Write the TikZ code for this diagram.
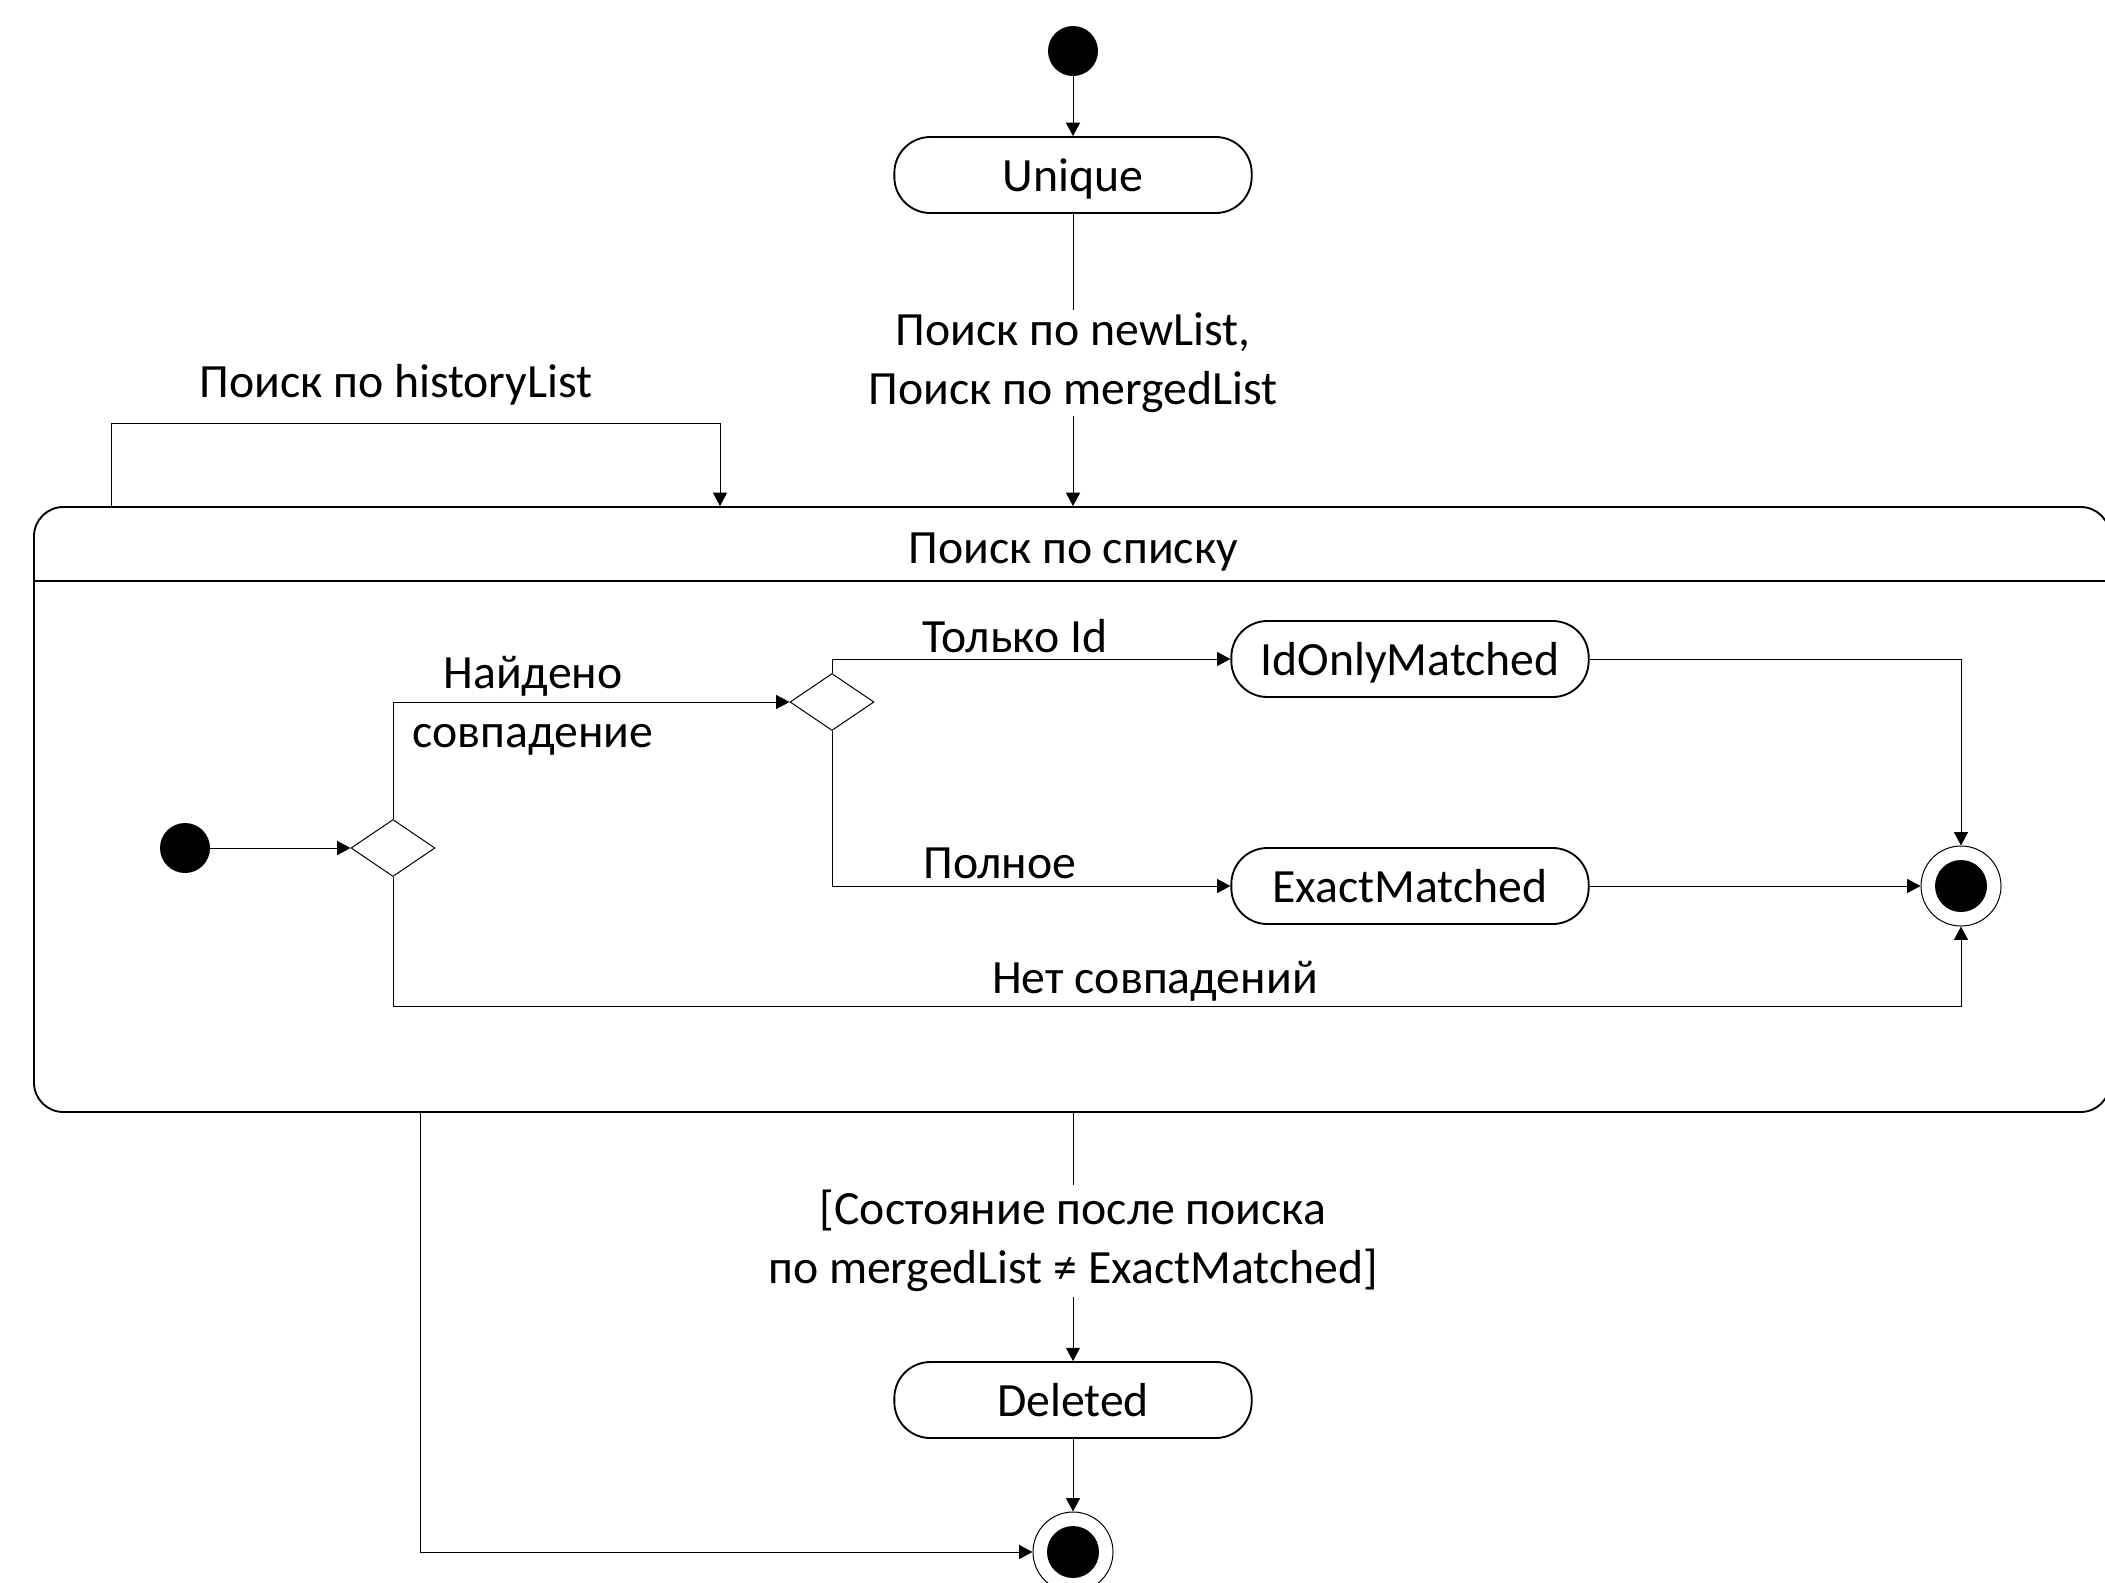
\documentclass[tikz,border=0pt]{standalone}
\usepackage{fontspec}
\setmainfont{Carlito}
\usetikzlibrary{shapes.geometric,arrows.meta}
\newcommand\lblfont{\fontsize{35.8}{44}\selectfont}
\tikzset{
  conn/.style={line width=0.75pt,-{Triangle[length=10pt,width=10.5pt]}},
  plain/.style={line width=0.75pt},
  statebox/.style={draw,line width=1.4pt,rounded corners=27pt,minimum width=268pt,minimum height=57pt,inner sep=0pt,font=\lblfont,text height=24pt,text depth=0pt},
  initst/.style={circle,fill=black,minimum size=37.5pt,inner sep=0pt},
  finst/.style={circle,draw,line width=0.75pt,fill=white,minimum size=60pt,inner sep=0pt,
    path picture={\fill[black] (path picture bounding box.center) circle (19.5pt);}},
  choice/.style={diamond,draw,line width=0.75pt,minimum width=63pt,minimum height=42.75pt,inner sep=0pt},
  lbl/.style={font=\lblfont,align=center,inner sep=0pt},
}
\begin{document}
\begin{tikzpicture}[x=0.75pt,y=-0.75pt]
\useasboundingbox (0,0) rectangle (2105,1582);
\clip (0,0) rectangle (2105,1582);
% top
\node[initst] (start) at (1073,51) {};
\node[statebox] (unique) at (1073,175) {Unique};
% composite state
\node[draw,line width=1.4pt,rounded corners=22pt,minimum width=1557pt,minimum height=453.75pt,inner sep=0pt] (sup) at (1072,809.5) {};
\coordinate (hdr) at (0,581);
\draw[line width=1.4pt] (sup.west |- hdr) -- (sup.east |- hdr);
\node[lbl] (title) at (1073,552) {Поиск по списку};
% transitions into composite
\draw[conn] (start) -- (unique);
\draw[conn] (unique) -- (unique.south |- sup.north);
\node[lbl,fill=white,inner sep=2pt] (lnew) at (1073,363) {Поиск по newList,\\Поиск по mergedList};
\coordinate (hl) at (111,423);
\coordinate (hr) at (720,423);
\draw[conn] (hl |- sup.north) -- (hl) -- (hr) -- (hr |- sup.north);
\node[lbl] (lhist) at (396,385) {Поиск по historyList};
% inner
\node[initst] (istart) at (185,848) {};
\node[choice] (d1) at (393,848) {};
\node[choice] (d2) at (832,702) {};
\node[statebox] (idm) at (1410,659) {IdOnlyMatched};
\node[statebox] (exm) at (1410,886) {ExactMatched};
\node[finst] (fin) at (1961,886) {};
\draw[conn] (istart) -- (d1.west);
\draw[conn] (d1.north) |- (d2.west);
\node[lbl] (lfound) at (533,706) {Найдено\\совпадение};
\draw[conn] (d2.north) |- (idm.west);
\node[lbl] (lonly) at (1015,636) {Только Id};
\draw[conn] (d2.south) |- (exm.west);
\node[lbl] (lfull) at (1000,863) {Полное};
\draw[conn] (idm.east) -| (fin.north);
\draw[conn] (exm.east) -- (fin.west);
\coordinate (nm) at (1961,1006);
\draw[conn] (d1.south) -- (d1.south |- nm) -- (nm) -- (fin.south);
\node[lbl] (lnone) at (1155,981) {Нет совпадений};
% bottom
\node[statebox] (del) at (1073,1400) {Deleted};
\node[finst] (fin2) at (1073,1552) {};
\draw[conn] (del.north |- sup.south) -- (del.north);
\node[lbl,fill=white,inner sep=4pt] (lstate) at (1073,1241) {[Состояние после поиска\\по mergedList ≠ ExactMatched]};
\draw[conn] (del) -- (fin2);
\coordinate (ll) at (420,1552);
\draw[conn] (ll |- sup.south) -- (ll) -- (fin2.west);
\end{tikzpicture}
\end{document}
